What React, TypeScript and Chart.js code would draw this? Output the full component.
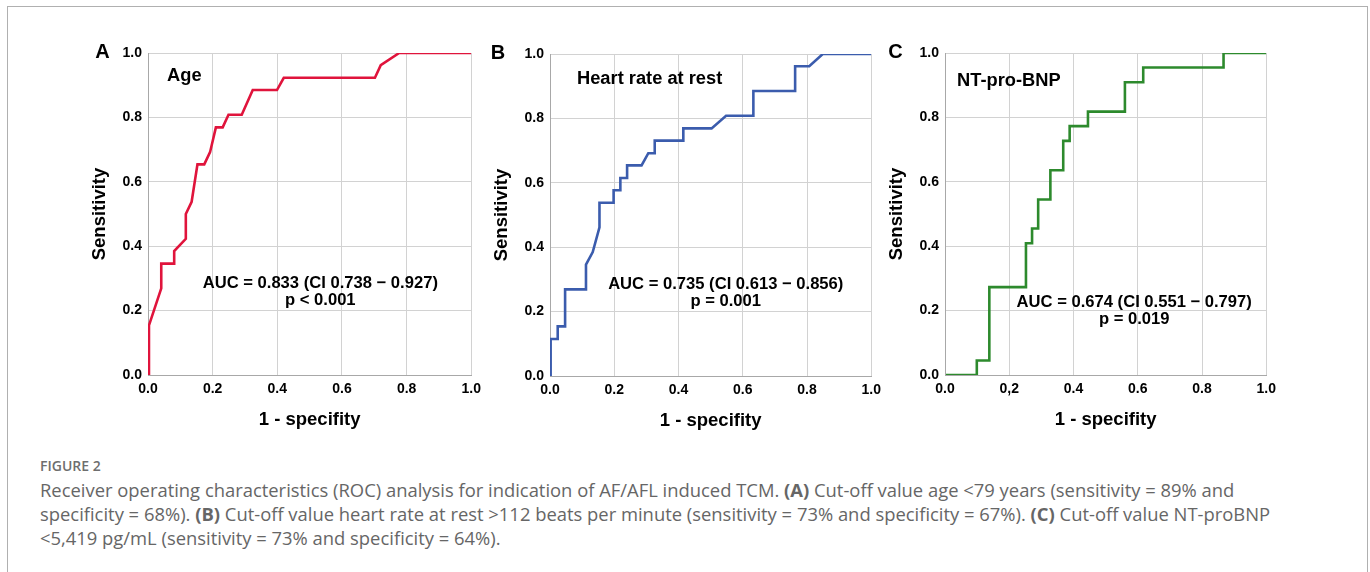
import React, { useEffect, useRef } from 'react';
import { Chart, registerables } from 'chart.js';

Chart.register(...registerables);

// ---- Data ----
const ageFpr = [0.003, 0.003, 0.041, 0.041, 0.081, 0.081, 0.117, 0.117, 0.135, 0.153, 0.174, 0.192, 0.21, 0.231, 0.249, 0.29, 0.324, 0.399, 0.42, 0.702, 0.72, 0.777, 1.0];
const ageTpr = [0, 0.154, 0.269, 0.346, 0.346, 0.385, 0.423, 0.5, 0.538, 0.654, 0.654, 0.692, 0.769, 0.769, 0.808, 0.808, 0.885, 0.885, 0.923, 0.923, 0.962, 1.0, 1.0];

const hrFpr = [0.002, 0.002, 0.024, 0.024, 0.047, 0.047, 0.112, 0.112, 0.133, 0.154, 0.154, 0.198, 0.198, 0.219, 0.219, 0.24, 0.24, 0.285, 0.306, 0.326, 0.326, 0.415, 0.415, 0.503, 0.548, 0.633, 0.633, 0.763, 0.763, 0.807, 0.849, 1.0];
const hrTpr = [0, 0.115, 0.115, 0.154, 0.154, 0.269, 0.269, 0.346, 0.385, 0.462, 0.538, 0.538, 0.577, 0.577, 0.615, 0.615, 0.654, 0.654, 0.692, 0.692, 0.731, 0.731, 0.769, 0.769, 0.808, 0.808, 0.885, 0.885, 0.962, 0.962, 1.0, 1.0];

const bnpFpr = [0.003, 0.099, 0.099, 0.138, 0.138, 0.252, 0.252, 0.271, 0.271, 0.29, 0.29, 0.328, 0.328, 0.368, 0.368, 0.388, 0.388, 0.445, 0.445, 0.56, 0.56, 0.617, 0.617, 0.867, 0.867, 1.0];
const bnpTpr = [0, 0, 0.045, 0.045, 0.273, 0.273, 0.409, 0.409, 0.455, 0.455, 0.545, 0.545, 0.636, 0.636, 0.727, 0.727, 0.773, 0.773, 0.818, 0.818, 0.909, 0.909, 0.955, 0.955, 1.0, 1.0];

const tickValues = [0, 0.2, 0.4, 0.6, 0.8, 1.0];
const yTickLabels = ['0.0', '0.2', '0.4', '0.6', '0.8', '1.0'];
const xTickLabelsAB = ['0.0', '0.2', '0.4', '0.6', '0.8', '1.0'];
const xTickLabelsC = ['0.0', '0,2', '0.4', '0.6', '0.8', '1.0'];

const panelLetters = ['A', 'B', 'C'];
const panelTitles = ['Age', 'Heart rate at rest', 'NT-pro-BNP'];
const aucTexts = [
  'AUC = 0.833 (CI 0.738 \u2212 0.927)',
  'AUC = 0.735 (CI 0.613 \u2212 0.856)',
  'AUC = 0.674 (CI 0.551 \u2212 0.797)',
];
const pTexts = ['p < 0.001', 'p = 0.001', 'p = 0.019'];
const lineColors = ['#e0143c', '#3b5cad', '#2d8a2d'];

const FONT = '"Liberation Sans", Arial, Helvetica, sans-serif';

type PanelCfg = {
  idx: number;
  fpr: number[];
  tpr: number[];
  xLabels: string[];
  left: number;
  top: number;
  width: number;
  titleX: number;
  titleY: number;
  aucX: number;
  aucY: number;
  pY: number;
  letterDx: number;
};

const panels: PanelCfg[] = [
  { idx: 0, fpr: ageFpr, tpr: ageTpr, xLabels: xTickLabelsAB, left: 80, top: 30, width: 407, titleX: 0.059, titleY: 0.929, aucX: 0.533, aucY: 0.283, pY: 0.231, letterDx: -45.5 },
  { idx: 1, fpr: hrFpr, tpr: hrTpr, xLabels: xTickLabelsAB, left: 482, top: 31, width: 405, titleX: 0.084, titleY: 0.922, aucX: 0.547, aucY: 0.283, pY: 0.231, letterDx: -52 },
  { idx: 2, fpr: bnpFpr, tpr: bnpTpr, xLabels: xTickLabelsC, left: 877, top: 30, width: 405, titleX: 0.0375, titleY: 0.913, aucX: 0.589, aucY: 0.224, pY: 0.174, letterDx: -49.5 },
];

const CANVAS_H = 410;

function RocPanel({ cfg }: { cfg: PanelCfg }) {
  const ref = useRef<HTMLCanvasElement>(null);
  useEffect(() => {
    if (!ref.current) return;
    const textPlugin = {
      id: 'panelText' + cfg.idx,
      afterDraw(chart: any) {
        const { ctx, chartArea } = chart;
        const x = chart.scales.x;
        const y = chart.scales.y;
        ctx.save();
        ctx.fillStyle = '#000';
        ctx.textBaseline = 'middle';
        ctx.font = `bold 20px ${FONT}`;
        ctx.textAlign = 'center';
        ctx.fillText(panelLetters[cfg.idx], chartArea.left + cfg.letterDx, chartArea.top - 1);
        ctx.font = `bold 18.3px ${FONT}`;
        ctx.textAlign = 'left';
        ctx.fillText(panelTitles[cfg.idx], x.getPixelForValue(cfg.titleX), y.getPixelForValue(cfg.titleY));
        ctx.font = `bold 16.6px ${FONT}`;
        ctx.textAlign = 'center';
        ctx.fillText(aucTexts[cfg.idx], x.getPixelForValue(cfg.aucX), y.getPixelForValue(cfg.aucY));
        ctx.fillText(pTexts[cfg.idx], x.getPixelForValue(cfg.aucX), y.getPixelForValue(cfg.pY));
        ctx.restore();
      },
    };
    const points = cfg.fpr.map((v, i) => ({ x: v, y: cfg.tpr[i] }));
    const chart = new Chart(ref.current, {
      type: 'line',
      data: {
        datasets: [
          {
            data: points,
            borderColor: lineColors[cfg.idx],
            borderWidth: 2.6,
            pointRadius: 0,
            tension: 0,
            fill: false,
            borderJoinStyle: 'miter',
            borderCapStyle: 'butt',
          },
        ],
      },
      options: {
        animation: false,
        responsive: false,
        maintainAspectRatio: false,
        devicePixelRatio: 1,
        layout: { padding: { left: 0, right: 10, top: 23, bottom: 5 } },
        plugins: { legend: { display: false }, tooltip: { enabled: false } },
        scales: {
          x: {
            type: 'linear',
            min: 0,
            max: 1,
            afterBuildTicks: (axis: any) => {
              axis.ticks = tickValues.map((v) => ({ value: v }));
            },
            afterFit: (axis: any) => {
              axis.height = 60;
            },
            ticks: {
              autoSkip: false,
              maxRotation: 0,
              padding: 6,
              color: '#000',
              font: { family: FONT, size: 14, weight: 'bold' },
              callback: (_v: any, i: number) => cfg.xLabels[i],
            },
            grid: { color: '#d2d2d2', lineWidth: 1, drawTicks: false },
            border: { display: true, color: '#a8a8a8', width: 1 },
            title: {
              display: true,
              text: '1 - specifity',
              color: '#000',
              font: { family: FONT, size: 18.5, weight: 'bold' },
              padding: { top: 0, bottom: 4 },
            },
          },
          y: {
            type: 'linear',
            min: 0,
            max: 1,
            afterBuildTicks: (axis: any) => {
              axis.ticks = tickValues.map((v) => ({ value: v }));
            },
            afterFit: (axis: any) => {
              axis.width = 68;
            },
            ticks: {
              autoSkip: false,
              padding: 6,
              color: '#000',
              font: { family: FONT, size: 14, weight: 'bold' },
              callback: (_v: any, i: number) => yTickLabels[i],
            },
            grid: { color: '#d2d2d2', lineWidth: 1, drawTicks: false },
            border: { display: true, color: '#a8a8a8', width: 1 },
            title: {
              display: true,
              text: 'Sensitivity',
              color: '#000',
              font: { family: FONT, size: 18.5, weight: 'bold' },
              padding: { top: 9, bottom: 0 },
            },
          },
        },
      },
      plugins: [textPlugin],
    } as any);
    return () => chart.destroy();
  }, [cfg]);
  return (
    <canvas
      ref={ref}
      width={cfg.width}
      height={CANVAS_H}
      style={{ position: 'absolute', left: cfg.left, top: cfg.top, width: cfg.width, height: CANVAS_H }}
    />
  );
}

const captionLines = [
  <>Receiver operating characteristics (ROC) analysis for indication of AF/AFL induced TCM. <b>(A)</b> Cut-off value age &lt;79 years (sensitivity = 89% and</>,
  <>specificity = 68%). <b>(B)</b> Cut-off value heart rate at rest &gt;112 beats per minute (sensitivity = 73% and specificity = 67%). <b>(C)</b> Cut-off value NT-proBNP</>,
  <>&lt;5,419 pg/mL (sensitivity = 73% and specificity = 64%).</>,
];

export default function App() {
  return (
    <div style={{ position: 'absolute', left: 0, top: 0, width: 1370, height: 572, overflow: 'hidden', background: '#fff' }}>
      <div
        style={{
          position: 'absolute',
          left: 7,
          top: 6,
          width: 1361,
          height: 620,
          border: '1px solid #b0b0b0',
          boxSizing: 'border-box',
        }}
      />
      {panels.map((p) => (
        <RocPanel key={p.idx} cfg={p} />
      ))}
      <div
        style={{
          position: 'absolute',
          left: 40,
          top: 457,
          fontFamily: '"Open Sans", sans-serif',
          fontSize: 14,
          lineHeight: '18px',
          fontWeight: 600,
          color: '#6e6e6e',
          whiteSpace: 'nowrap',
        }}
      >
        FIGURE 2
      </div>
      {captionLines.map((line, i) => (
        <div
          key={i}
          style={{
            position: 'absolute',
            left: 40,
            top: 478 + i * 24,
            fontFamily: '"Open Sans", sans-serif',
            fontSize: 18.4,
            lineHeight: '24px',
            color: '#666',
            whiteSpace: 'nowrap',
          }}
        >
          {line}
        </div>
      ))}
    </div>
  );
}
